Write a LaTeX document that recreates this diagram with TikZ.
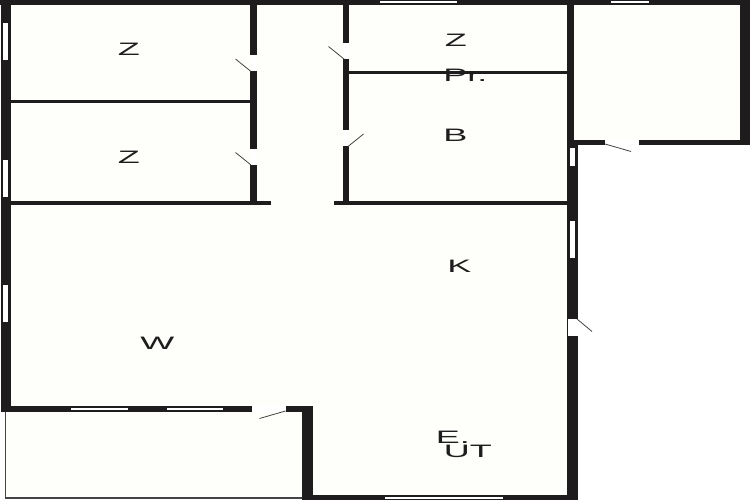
\documentclass[tikz,border=0pt]{standalone}
\usepackage{fontspec}
\setmainfont{Liberation Sans}
\definecolor{wallc}{HTML}{1E1C1D}
\definecolor{floorc}{HTML}{FEFFFA}
\definecolor{thinc}{HTML}{444444}
\tikzset{
  wall/.style={fill=wallc,draw=wallc,line width=0.5pt},
  opening/.style={fill=white,draw=none},
  doorleaf/.style={draw=thinc,line width=0.8pt},
  lab/.style={anchor=base west,inner sep=0pt,xscale=2,text=wallc,font=\fontsize{18}{18}\selectfont},
}
\begin{document}
\begin{tikzpicture}[x=1pt,y=-1pt]
\useasboundingbox (0,0) rectangle (750,500);
\fill[white] (0,0) rectangle (750,500);
% floors
\fill[floorc] (5,2) -- (745,2) -- (745,142) -- (575,142) -- (575,498) -- (5,498) -- cycle;
% terrace outline
\draw[thinc,line width=1.1pt] (5.5,410) -- (5.5,498) -- (303,498);
% outer walls
\fill[wall] (0,0) rectangle (750,4);
\fill[wall] (1,0) rectangle (10,411);
\fill[wall] (740,0) rectangle (749,144);
\fill[wall] (568,140) rectangle (749,144);
\fill[wall] (567.7,0) rectangle (573.3,144);
\fill[wall] (567.7,141) rectangle (577.3,500);
\fill[wall] (1,406) rectangle (312,411);
\fill[wall] (302,406) rectangle (312,500);
\fill[wall] (302,495) rectangle (577.3,500);
% inner walls
\fill[wall] (250.5,4) rectangle (256,204);
\fill[wall] (343.5,4) rectangle (348.5,204);
\fill[wall] (10,100) rectangle (251,102.5);
\fill[wall] (10,201) rectangle (270.5,204);
\fill[wall] (334,201) rectangle (568,204);
\fill[wall] (348,71) rectangle (568,73);
% windows
\fill[opening] (2.5,23) rectangle (8,60);
\fill[opening] (2.5,160) rectangle (8,197);
\fill[opening] (2.5,284.5) rectangle (8,321.5);
\fill[opening] (380,1) rectangle (457,3.5);
\fill[opening] (610.5,1) rectangle (649,3.5);
\fill[opening] (569.5,148) rectangle (575,166.5);
\fill[opening] (569.5,221) rectangle (575,257.5);
\fill[opening] (71,407.5) rectangle (127.5,410);
\fill[opening] (166.5,407.5) rectangle (223,410);
\fill[opening] (385,496.5) rectangle (502.5,499);
% door gaps
\fill[opening] (250,55.5) rectangle (256.5,71.5);
\fill[opening] (250,149) rectangle (256.5,165);
\fill[opening] (343,43) rectangle (349,59);
\fill[opening] (343,130) rectangle (349,146.5);
\fill[opening] (605,139.5) rectangle (638.5,145);
\fill[opening] (567.5,319) rectangle (577.5,335.5);
\fill[opening] (252,405.5) rectangle (285.5,411.5);
% door leaves
\draw[doorleaf] (251,71.5) -- (235.5,59);
\draw[doorleaf] (251,165) -- (235.5,152.5);
\draw[doorleaf] (344,59) -- (328.5,46.5);
\draw[doorleaf] (348,146.5) -- (363.5,134);
\draw[doorleaf] (605,144) -- (631,151.5);
\draw[doorleaf] (577,319) -- (592,331.5);
\draw[doorleaf] (285.5,411) -- (259.5,418.5);
% labels
\node[lab] (z1) at (117.5,56) {Z};
\node[lab] (z2) at (117.5,163.5) {Z};
\node[lab] (z3) at (444.5,47) {Z};
\node[lab] (pr) at (443,82) {Pr.};
\node[lab] (b) at (443,142) {B};
\node[lab] (k) at (447,272) {K};
\node[lab] (w) at (140,349.5) {W};
\node[lab] (e) at (435.5,443) {E.};
\node[lab] (ut) at (443.5,457.5) {UT};
\end{tikzpicture}
\end{document}
